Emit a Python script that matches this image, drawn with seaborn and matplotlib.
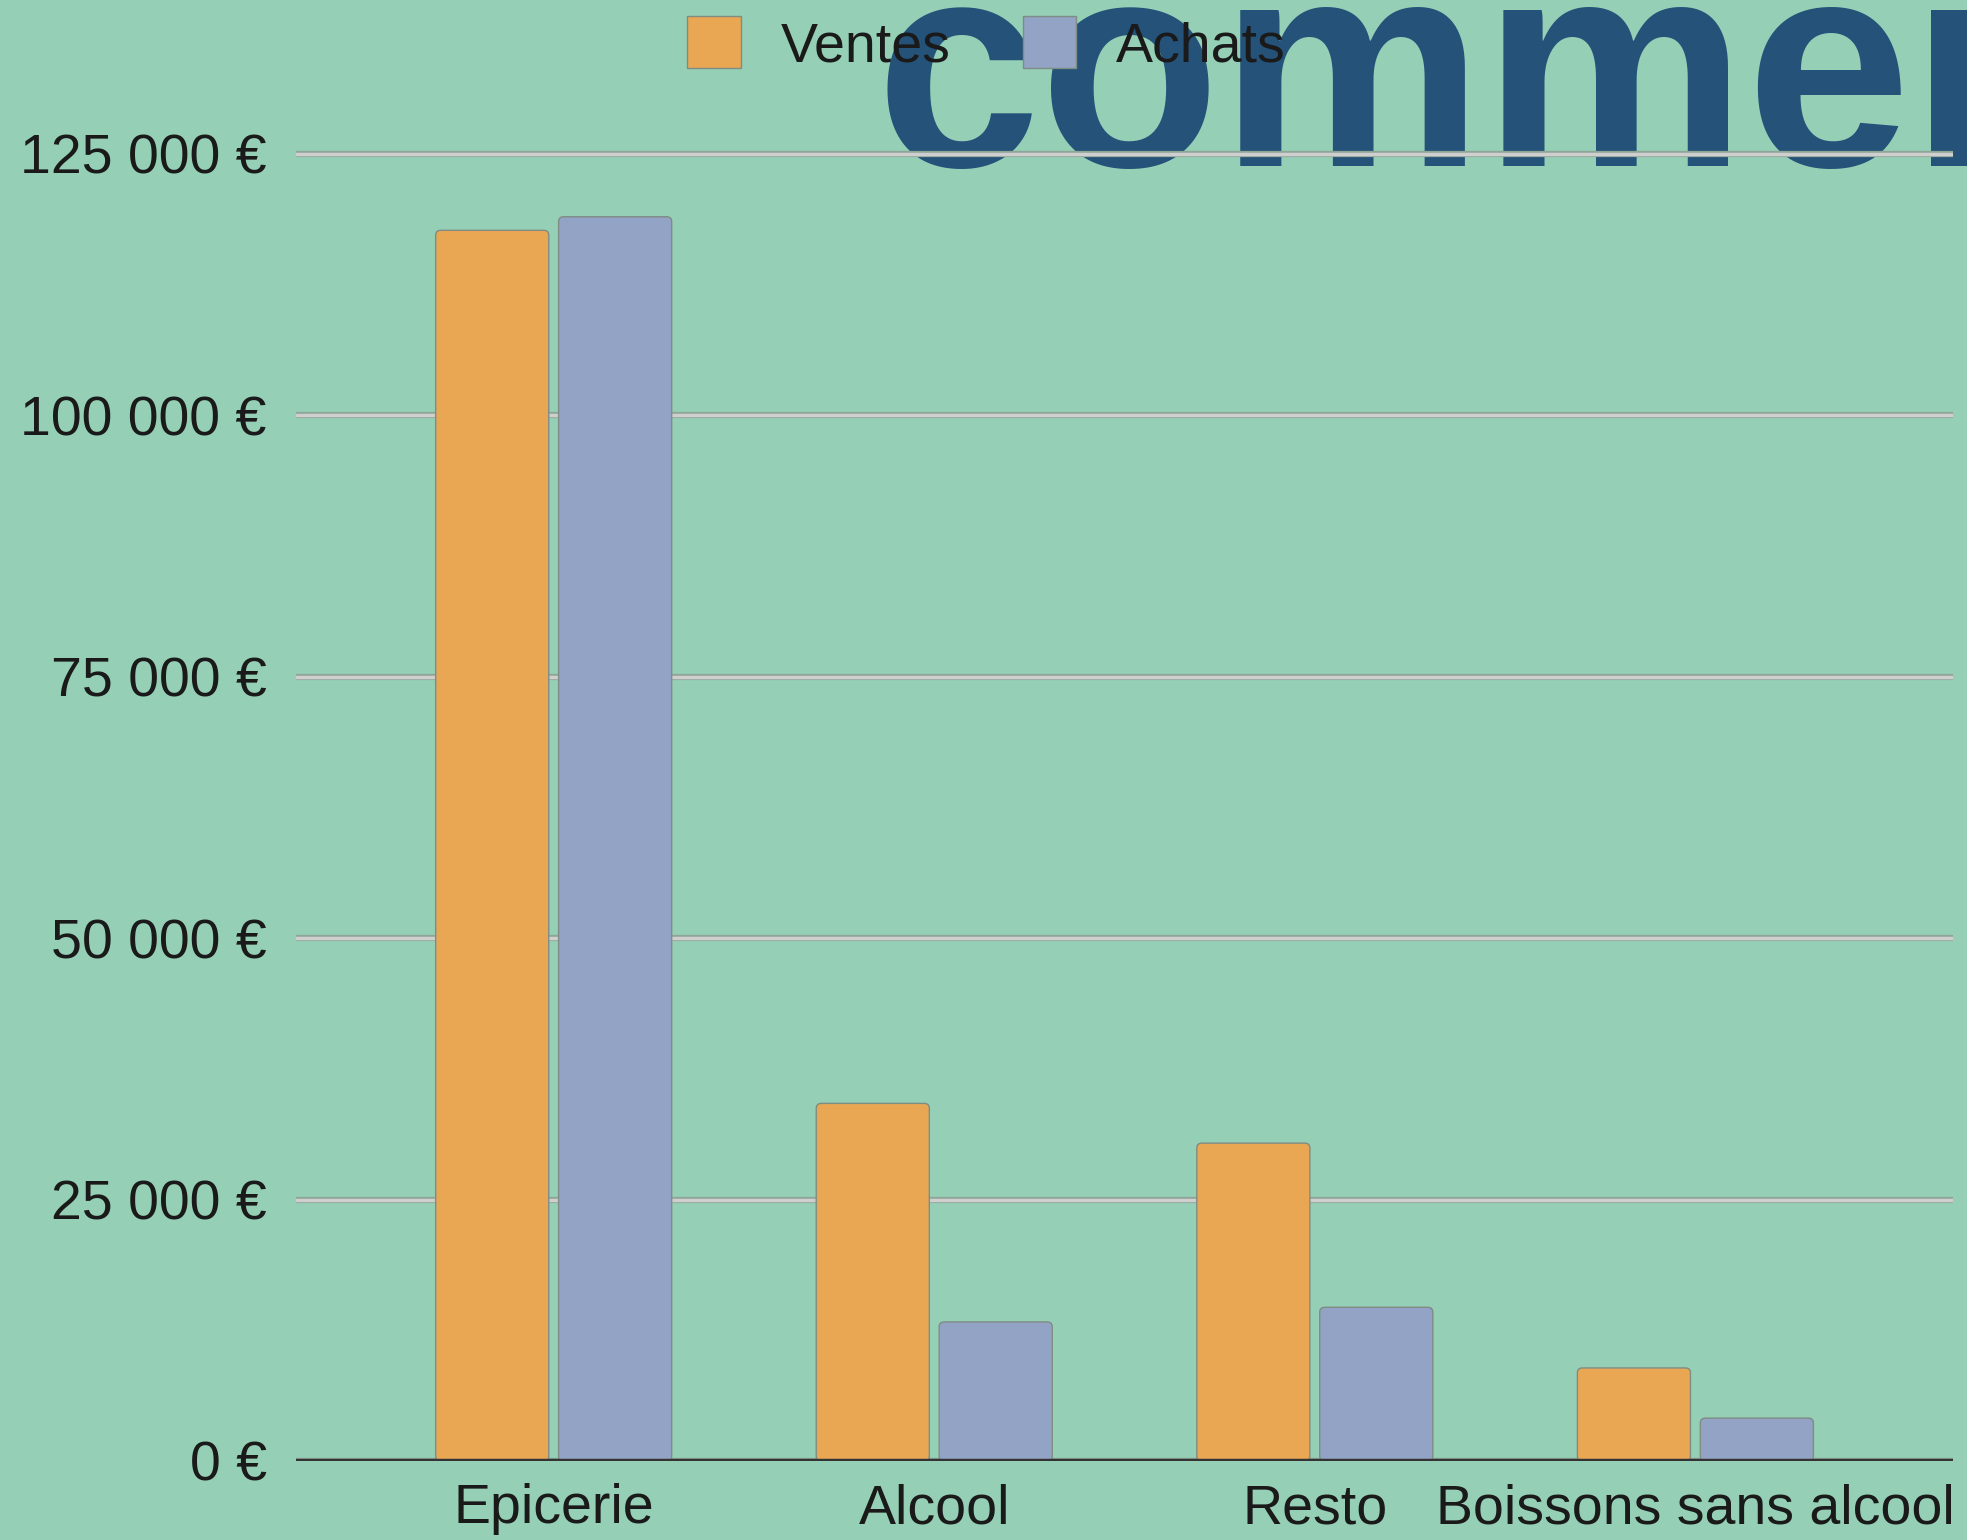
import matplotlib
matplotlib.use("Agg")
import matplotlib.pyplot as plt
import matplotlib.patheffects as pe
from matplotlib.patches import FancyBboxPatch, Rectangle
import seaborn as sns
import pandas as pd

categories = ["Epicerie", "Alcool", "Resto", "Boissons sans alcool"]
ventes = [117700, 34200, 30400, 8900]
achats = [119000, 13300, 14700, 4100]
series_names = ["Ventes", "Achats"]
yticks = [0, 25000, 50000, 75000, 100000, 125000]
ytick_labels = ["0 €", "25 000 €", "50 000 €", "75 000 €", "100 000 €", "125 000 €"]
title_text = "commerce"

df = pd.DataFrame({
    "cat": categories * 2,
    "serie": [series_names[0]] * 4 + [series_names[1]] * 4,
    "val": ventes + achats,
})

BG = "#95d0b6"
FS = 40
sns.set_theme(style="white")
plt.rcParams["font.family"] = ["Liberation Sans", "DejaVu Sans"]

W, H, DPI = 19.67, 15.40, 100
fig = plt.figure(figsize=(W, H), dpi=DPI, facecolor=BG)
ax_rect = [0.1505, 0.0513, 0.9929 - 0.1505, 0.9068 - 0.0513]
ax = fig.add_axes(ax_rect)
ax.set_facecolor("none")

fig.text(0.445, 0.892, title_text, fontsize=213, fontweight="bold",
         color="#245279", va="baseline", ha="left", zorder=-1)

sns.barplot(data=df, x="cat", y="val", hue="serie", order=categories,
            hue_order=series_names, palette=["#e9a754", "#93a3c5"],
            saturation=1, width=0.646, gap=0.08, edgecolor="#7f8c84",
            linewidth=1.0, ax=ax, legend=True, zorder=2)

xlim = (-0.677, 3.677)
ylim = (0, 126000)
ax.set_xlim(*xlim)
ax.set_ylim(*ylim)

# rounded bar tops: rebuild each seaborn bar as a rounded box with the same geometry
px_w = ax_rect[2] * W * DPI
px_h = ax_rect[3] * H * DPI
x_per_px = (xlim[1] - xlim[0]) / px_w
y_per_px = (ylim[1] - ylim[0]) / px_h
radius_px = 5
for p in list(ax.patches):
    if isinstance(p, Rectangle) and p.get_height() > 0:
        x, y = p.get_x(), p.get_y()
        w, h = p.get_width(), p.get_height()
        fb = FancyBboxPatch((x, y), w, h,
                            boxstyle=f"round,pad=0,rounding_size={radius_px * x_per_px}",
                            mutation_aspect=y_per_px / x_per_px,
                            facecolor=p.get_facecolor(), edgecolor="#7f8c84",
                            linewidth=1.0, zorder=2)
        p.remove()
        ax.add_patch(fb)

ax.set_yticks(yticks)
ax.set_yticklabels(ytick_labels)
ax.set_xlabel("")
ax.set_ylabel("")
ax.tick_params(axis="both", length=0, labelsize=FS, colors="#1a1a1a")
ax.tick_params(axis="y", pad=21)
ax.tick_params(axis="x", pad=16)
for s in ax.spines.values():
    s.set_visible(False)

ax.grid(axis="y", color="#cfcfcf", linewidth=2.5, zorder=0)
ax.set_axisbelow(True)
for line in ax.get_ygridlines():
    line.set_path_effects([pe.Stroke(linewidth=4.5, foreground="#8fa598"), pe.Normal()])

ax.axhline(0, color="#333333", linewidth=3.2, zorder=5)

leg = ax.legend(loc="center", bbox_to_anchor=(0.5015, 0.971), bbox_transform=fig.transFigure,
                ncol=2, frameon=False, fontsize=FS, handlelength=0.96, handleheight=1.05,
                handletextpad=0.72, columnspacing=1.3, borderaxespad=0)
for t in leg.get_texts():
    t.set_color("#1a1a1a")

fig.savefig("out.png", dpi=DPI, facecolor=BG)
